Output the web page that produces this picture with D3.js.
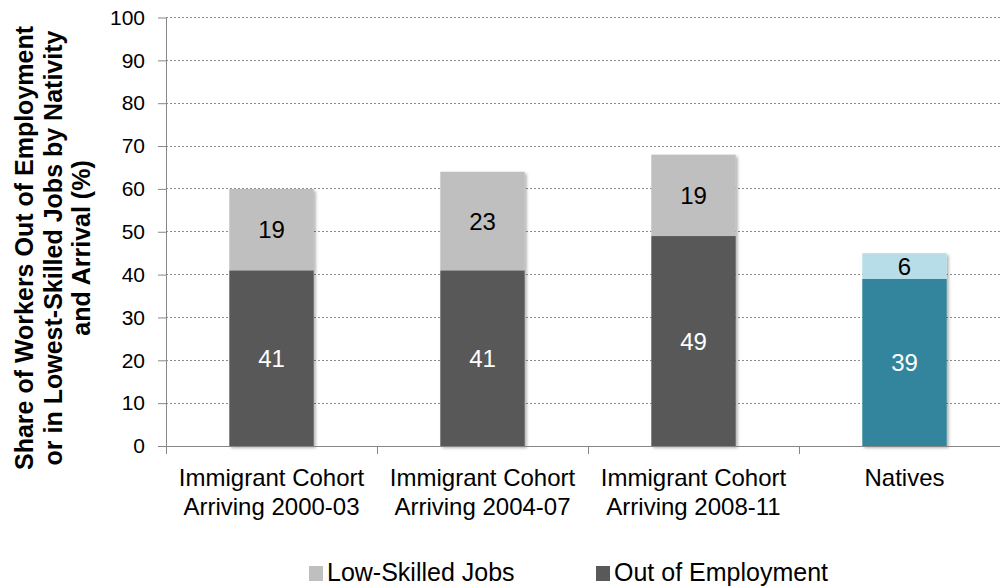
<!DOCTYPE html>
<html>
<head>
<meta charset="utf-8">
<script src="https://cdn.jsdelivr.net/npm/d3@7"></script>
<style>
  html, body { margin: 0; padding: 0; background: #fff; }
  svg { display: block; font-family: "Liberation Sans", Arial, sans-serif; }
</style>
</head>
<body>
<svg id="chart" width="1000" height="588"></svg>
<script>
// Categories and stacked values (percent of workers)
const categories = [
  ["Immigrant Cohort", "Arriving 2000-03"],
  ["Immigrant Cohort", "Arriving 2004-07"],
  ["Immigrant Cohort", "Arriving 2008-11"],
  ["Natives"]
];
const outOfEmployment = [41, 41, 49, 39];
const lowSkilledJobs = [19, 23, 19, 6];
const yTicks = [0, 10, 20, 30, 40, 50, 60, 70, 80, 90, 100];
const seriesNames = ["Low-Skilled Jobs", "Out of Employment"];
const titleLines = [
  "Share of Workers Out of Employment",
  "or in Lowest-Skilled Jobs by Nativity",
  "and Arrival (%)"
];

// Immigrant bars are gray; the native bar uses teal tones
const darkColors = ["#595959", "#595959", "#595959", "#31859c"];
const lightColors = ["#bfbfbf", "#bfbfbf", "#bfbfbf", "#b7dee8"];

const svg = d3.select("#chart");
const plot = { left: 166, right: 1010, top: 17.5, bottom: 446 };

const x = d3.scaleBand()
  .domain(d3.range(categories.length))
  .range([plot.left, plot.right])
  .paddingInner(0.6)
  .paddingOuter(0.3);

const y = d3.scaleLinear().domain([0, 100]).range([plot.bottom, plot.top]);

// Soft shadow under the bars
const defs = svg.append("defs");
const shadow = defs.append("filter").attr("id", "barShadow")
  .attr("x", "-20%").attr("y", "-20%").attr("width", "140%").attr("height", "140%");
shadow.append("feDropShadow")
  .attr("dx", 2).attr("dy", 2).attr("stdDeviation", 1.5)
  .attr("flood-color", "#000").attr("flood-opacity", 0.3);

// Dotted horizontal gridlines
svg.append("g")
  .selectAll("line")
  .data(yTicks.filter(d => d > 0))
  .join("line")
  .attr("x1", plot.left).attr("x2", plot.right)
  .attr("y1", d => y(d)).attr("y2", d => y(d))
  .attr("stroke", "#8c8c8c")
  .attr("stroke-width", 1)
  .attr("stroke-dasharray", "2,2")
  .attr("shape-rendering", "crispEdges");

// Stacked bars
const rows = categories.map((c, i) => ({
  i,
  out: outOfEmployment[i],
  low: lowSkilledJobs[i]
}));

const bars = svg.append("g").attr("filter", "url(#barShadow)");
bars.selectAll("rect.out")
  .data(rows)
  .join("rect")
  .attr("class", "out")
  .attr("x", d => x(d.i))
  .attr("width", x.bandwidth())
  .attr("y", d => y(d.out))
  .attr("height", d => y(0) - y(d.out))
  .attr("fill", d => darkColors[d.i]);

bars.selectAll("rect.low")
  .data(rows)
  .join("rect")
  .attr("class", "low")
  .attr("x", d => x(d.i))
  .attr("width", x.bandwidth())
  .attr("y", d => y(d.out + d.low))
  .attr("height", d => y(d.out) - y(d.out + d.low))
  .attr("fill", d => lightColors[d.i]);

// Value labels centred in each segment
const labels = svg.append("g")
  .attr("text-anchor", "middle")
  .attr("font-size", 24);
labels.selectAll("text.out")
  .data(rows)
  .join("text")
  .attr("class", "out")
  .attr("x", d => x(d.i) + x.bandwidth() / 2)
  .attr("y", d => y(d.out / 2))
  .attr("dy", "0.36em")
  .attr("fill", "#fff")
  .text(d => d.out);
labels.selectAll("text.low")
  .data(rows)
  .join("text")
  .attr("class", "low")
  .attr("x", d => x(d.i) + x.bandwidth() / 2)
  .attr("y", d => y(d.out + d.low / 2))
  .attr("dy", "0.36em")
  .attr("fill", "#000")
  .text(d => d.low);

// Y axis
const yAxis = svg.append("g")
  .attr("transform", `translate(${plot.left},0)`)
  .call(d3.axisLeft(y).tickValues(yTicks).tickSize(8).tickPadding(13).tickSizeOuter(0));
yAxis.select(".domain").attr("stroke", "#868686");
yAxis.selectAll(".tick line").attr("stroke", "#868686");
yAxis.selectAll(".tick text")
  .attr("font-family", "Liberation Sans, Arial, sans-serif")
  .attr("font-size", 21)
  .attr("fill", "#000");

// X axis: ticks sit on category boundaries
const xAxisG = svg.append("g").attr("transform", `translate(0,${plot.bottom})`);
xAxisG.append("line")
  .attr("x1", plot.left).attr("x2", plot.right)
  .attr("stroke", "#868686")
  .attr("shape-rendering", "crispEdges");
const boundaries = d3.range(categories.length + 1)
  .map(k => plot.left + k * x.step());
xAxisG.selectAll("line.tick")
  .data(boundaries)
  .join("line")
  .attr("class", "tick")
  .attr("x1", d => d).attr("x2", d => d)
  .attr("y1", 0).attr("y2", 8)
  .attr("stroke", "#868686")
  .attr("shape-rendering", "crispEdges");

const catLabels = xAxisG.selectAll("text.cat")
  .data(categories)
  .join("text")
  .attr("class", "cat")
  .attr("text-anchor", "middle")
  .attr("font-size", 24)
  .attr("fill", "#000")
  .attr("transform", (d, i) => `translate(${x(i) + x.bandwidth() / 2},40)`);
catLabels.selectAll("tspan")
  .data(d => d)
  .join("tspan")
  .attr("x", 0)
  .attr("y", (d, j) => j * 29)
  .text(d => d);

// Rotated y-axis title
const title = svg.append("text")
  .attr("transform", "rotate(-90)")
  .attr("text-anchor", "middle")
  .attr("font-weight", "bold")
  .attr("font-size", 25)
  .attr("fill", "#000");
title.selectAll("tspan")
  .data(titleLines)
  .join("tspan")
  .attr("x", -248)
  .attr("y", (d, j) => 33 + j * 28.5)
  .text(d => d);

// Legend
const legendItems = [
  { name: seriesNames[0], color: lightColors[0], x: 309 },
  { name: seriesNames[1], color: darkColors[0], x: 596 }
];
const legend = svg.append("g");
const li = legend.selectAll("g")
  .data(legendItems)
  .join("g")
  .attr("transform", d => `translate(${d.x},566)`);
li.append("rect")
  .attr("width", 14).attr("height", 15)
  .attr("fill", d => d.color);
li.append("text")
  .attr("x", 18).attr("y", 15)
  .attr("font-size", 25)
  .attr("fill", "#000")
  .text(d => d.name);
</script>
</body>
</html>
